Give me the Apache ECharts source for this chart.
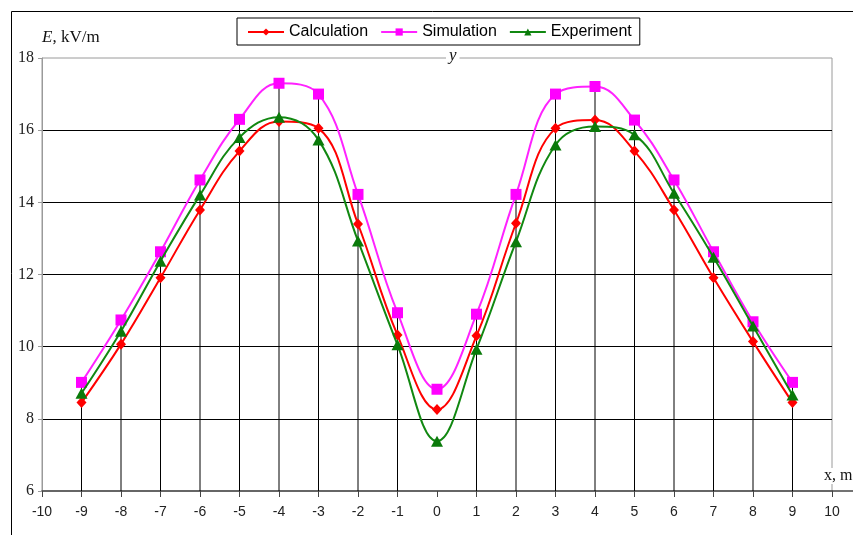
<!DOCTYPE html>
<html><head><meta charset="utf-8">
<script src="https://cdn.jsdelivr.net/npm/echarts@6/dist/echarts.min.js"></script>
<style>html,body{margin:0;padding:0;background:#fff}#c{width:853px;height:535px}</style>
</head><body><div id="c"></div>
<script>
const xValues = [-9,-8,-7,-6,-5,-4,-3,-2,-1,0,1,2,3,4,5,6,7,8,9];
const calculation = [8.45,10.07,11.91,13.79,15.42,16.24,16.05,13.40,10.32,8.26,10.30,13.42,16.05,16.28,15.42,13.79,11.91,10.14,8.45];
const simulation  = [9.01,10.74,12.63,14.62,16.30,17.30,17.00,14.22,10.94,8.82,10.90,14.22,17.00,17.21,16.28,14.62,12.63,10.69,9.01];
const experiment  = [8.71,10.43,12.37,14.20,15.80,16.36,15.73,12.93,10.05,7.38,9.93,12.91,15.59,16.10,15.87,14.25,12.48,10.57,8.66];
const xTicks = {min:-10, max:10, interval:1};
const yTicks = {min:6, max:18, interval:2};

const pair = arr => xValues.map((x,i)=>[x, arr[i]]);
const dropData = xValues.filter(x=>x!==0).map(x=>{
  const i = xValues.indexOf(x);
  return [x, Math.max(calculation[i], simulation[i], experiment[i])];
});

const chart = echarts.init(document.getElementById('c'), null, {renderer:'canvas'});
chart.setOption({
  animation:false,
  backgroundColor:'#fff',
  grid:{left:42, right:21, top:58, bottom:44, show:true, borderColor:'#9a9a9a', borderWidth:1, backgroundColor:'transparent'},
  legend:{
    left:237, top:18, orient:'horizontal',
    borderColor:'#000', borderWidth:1, padding:[6,8,5,10],
    itemGap:12, itemWidth:36, itemHeight:9,
    textStyle:{fontFamily:'Liberation Sans', fontSize:16, color:'#000'},
    data:['Calculation','Simulation','Experiment']
  },
  xAxis:{
    type:'value', min:xTicks.min, max:xTicks.max, interval:xTicks.interval,
    axisLine:{onZero:false, lineStyle:{color:'#444', width:1.5}},
    axisTick:{show:true, length:6, lineStyle:{color:'#444'}},
    axisLabel:{color:'#222', fontFamily:'Liberation Sans', fontSize:14, margin:14},
    splitLine:{show:false}
  },
  yAxis:{
    type:'value', min:yTicks.min, max:yTicks.max, interval:yTicks.interval,
    name:'{i|E}{n|, kV/m}', nameLocation:'end', nameGap:20,
    nameTextStyle:{align:'left', verticalAlign:'middle', padding:[0,0,0,0],
      rich:{i:{fontFamily:'Liberation Serif', fontStyle:'italic', fontSize:17, color:'#111'},
            n:{fontFamily:'Liberation Serif', fontSize:17, color:'#111'}}},
    axisLine:{show:true, onZero:false, lineStyle:{color:'#9a9a9a'}},
    axisTick:{show:true, length:4, lineStyle:{color:'#9a9a9a'}},
    axisLabel:{color:'#222', fontFamily:'Liberation Serif', fontSize:16, margin:8},
    splitLine:{show:true, showMinLine:false, showMaxLine:false, lineStyle:{color:'#000', width:1}}
  },
  graphic:[
    {type:'rect', shape:{x:11.5, y:11.5, width:900, height:600}, style:{fill:'none', stroke:'#000', lineWidth:1}, z:-1},
    {type:'line', shape:{x1:832, y1:491, x2:853, y2:491}, style:{stroke:'#444', lineWidth:1.5}, z:2},
    {type:'text', left:446, top:47, style:{text:'y', font:'italic 17px "Liberation Serif"', fill:'#111', backgroundColor:'#fff', padding:[0,3,0,3]}, z:10},
    {type:'text', left:822, top:468, style:{text:'x, m', font:'16px "Liberation Serif"', fill:'#111', backgroundColor:'#fff', padding:[0,2,0,2]}, z:10}
  ],
  series:[
    {
      type:'custom', name:'drop', silent:true, z:1,
      data:dropData,
      renderItem:(params, api)=>{
        const top = api.coord([api.value(0), api.value(1)]);
        const bot = api.coord([api.value(0), yTicks.min]);
        return {type:'line', shape:{x1:top[0], y1:top[1], x2:bot[0], y2:bot[1]}, style:{stroke:'#000', lineWidth:1}};
      },
      markLine:{silent:true, symbol:'none', label:{show:false}, lineStyle:{color:'#000', type:'solid', width:1.2},
        data:[[{coord:[0,yTicks.min]},{coord:[0,18.35]}]]}
    },
    {name:'Calculation', type:'line', smooth:0.4, data:pair(calculation), z:4,
      symbol:'diamond', symbolSize:[10,11], itemStyle:{color:'#ff0000'}, lineStyle:{color:'#ff0000', width:2}},
    {name:'Simulation', type:'line', smooth:0.4, data:pair(simulation), z:3,
      symbol:'rect', symbolSize:11, itemStyle:{color:'#ff00ff'}, lineStyle:{color:'#ff22ff', width:2}},
    {name:'Experiment', type:'line', smooth:0.4, data:pair(experiment), z:5,
      symbol:'triangle', symbolSize:[12,11], itemStyle:{color:'#0a7a0a'}, lineStyle:{color:'#118811', width:2}}
  ]
});
</script></body></html>
